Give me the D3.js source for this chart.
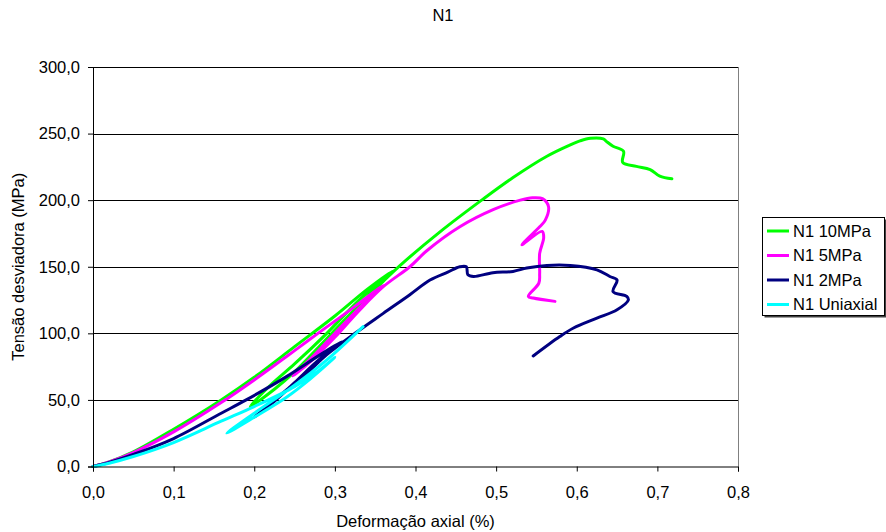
<!DOCTYPE html>
<html>
<head>
<meta charset="utf-8">
<script src="https://cdn.jsdelivr.net/npm/d3@7"></script>
<style>
  body { margin: 0; background: #fff; }
  text { font-family: "Liberation Sans", Arial, sans-serif; fill: #000; }
  .axis path, .axis line { stroke: #000; }
  .grid line { stroke: #000; shape-rendering: crispEdges; }
</style>
</head>
<body>
<svg width="886" height="532"></svg>
<script>
// values: strain (%) and deviator stress (MPa)
var seriesNames = ["N1 10MPa", "N1 5MPa", "N1 2MPa", "N1 Uniaxial"];
var seriesColors = ["#00ff00", "#ff00ff", "#000080", "#00ffff"];

var strain10 = [0, 0.02, 0.05, 0.1, 0.159, 0.2, 0.25, 0.3, 0.34, 0.372,
  0.33, 0.29, 0.25, 0.22, 0.195,
  0.225, 0.25, 0.282, 0.32, 0.36, 0.38, 0.43, 0.482, 0.521, 0.563, 0.59, 0.604, 0.617, 0.633,
  0.637, 0.645, 0.658, 0.657, 0.674, 0.691, 0.703, 0.718];
var stress10 = [0, 3.5, 11, 28, 50, 67, 90, 113, 133, 147,
  125, 100, 77, 61, 45,
  58, 71, 91, 115, 139, 150.5, 176, 200, 217, 233, 241, 244.5, 246.5, 246,
  244, 240.5, 236.7, 228.4, 225.4, 223, 218, 216];

var strain5 = [0, 0.02, 0.05, 0.1, 0.159, 0.2, 0.25, 0.279, 0.32, 0.36,
  0.34, 0.3, 0.27, 0.248,
  0.27, 0.3, 0.33, 0.36, 0.393, 0.414, 0.455, 0.497, 0.53, 0.545, 0.558, 0.565, 0.561, 0.554,
  0.532, 0.557, 0.559, 0.554, 0.554, 0.553, 0.54, 0.546, 0.573];
var stress5 = [0, 3.5, 10.5, 26, 48, 65, 87, 100, 118, 136,
  125, 100, 81, 68,
  79, 97, 117, 135, 150, 162, 180, 193, 200, 201.8, 201, 195, 185, 180,
  166.5, 176.5, 172, 160, 145, 137.7, 127.7, 126.5, 124];

var strain2 = [0, 0.02, 0.05, 0.1, 0.159, 0.19, 0.24, 0.282, 0.31,
  0.28, 0.25, 0.225, 0.2,
  0.22, 0.24, 0.265, 0.29, 0.325, 0.36, 0.393, 0.418, 0.44, 0.455, 0.463, 0.465, 0.472,
  0.496, 0.521, 0.538, 0.563, 0.592, 0.625, 0.641, 0.65, 0.645, 0.662, 0.664,
  0.65, 0.625, 0.596, 0.579, 0.546];
var stress2 = [0, 3, 9, 21, 40, 50, 67.5, 84, 94,
  80, 63, 49, 37,
  47, 57.5, 70, 84, 100, 115, 129, 140, 146, 150, 150, 144, 142.7,
  145.5, 146.5, 149, 151, 151, 147.7, 142.7, 140, 131.4, 127.7, 125,
  117.7, 111.4, 104, 97.6, 83];

var strainU = [0, 0.02, 0.05, 0.1, 0.159, 0.2, 0.25, 0.28, 0.3,
  0.27, 0.24, 0.2, 0.166,
  0.2, 0.25, 0.29, 0.335];
var stressU = [0, 2.5, 7.5, 18, 34, 45, 60, 72, 82,
  66, 52, 37, 25,
  40, 61, 80, 105];

var xTicks = [0, 0.1, 0.2, 0.3, 0.4, 0.5, 0.6, 0.7, 0.8];
var yTicks = [0, 50, 100, 150, 200, 250, 300];

var svg = d3.select("svg"),
    margin = {top: 67, right: 148, bottom: 65.5, left: 93},
    width = +svg.attr("width") - margin.left - margin.right,
    height = +svg.attr("height") - margin.top - margin.bottom;

var pt = d3.formatLocale({decimal: ",", thousands: ".", grouping: [3], currency: ["", " €"]});

var x = d3.scaleLinear().domain([0, 0.8]).range([0, width]),
    y = d3.scaleLinear().domain([0, 300]).range([height, 0]);

var g = svg.append("g")
    .attr("transform", "translate(" + margin.left + "," + margin.top + ")");

// horizontal gridlines
g.append("g")
    .attr("class", "grid")
  .selectAll("line")
  .data(yTicks.slice(1))
  .enter().append("line")
    .attr("x1", 0)
    .attr("x2", width)
    .attr("y1", function(d) { return Math.round(y(d)) + 0.5; })
    .attr("y2", function(d) { return Math.round(y(d)) + 0.5; });

// right edge of plot area
g.append("line")
    .attr("x1", width + 0.5).attr("x2", width + 0.5)
    .attr("y1", 0).attr("y2", height)
    .attr("stroke", "#808080");

var series = [
  {name: seriesNames[0], color: seriesColors[0], xs: strain10, ys: stress10},
  {name: seriesNames[1], color: seriesColors[1], xs: strain5, ys: stress5},
  {name: seriesNames[2], color: seriesColors[2], xs: strain2, ys: stress2},
  {name: seriesNames[3], color: seriesColors[3], xs: strainU, ys: stressU}
];

var line = d3.line()
    .x(function(d) { return x(d[0]); })
    .y(function(d) { return y(d[1]); })
    .curve(d3.curveCatmullRom.alpha(0.5));

g.selectAll(".series")
  .data(series)
  .enter().append("path")
    .attr("class", "series")
    .attr("fill", "none")
    .attr("stroke", function(d) { return d.color; })
    .attr("stroke-width", 3)
    .attr("stroke-linejoin", "round")
    .attr("stroke-linecap", "round")
    .attr("d", function(d) { return line(d3.zip(d.xs, d.ys)); });

g.append("g")
    .attr("class", "axis axis--x")
    .attr("transform", "translate(0," + height + ")")
    .call(d3.axisBottom(x).tickValues(xTicks).tickFormat(pt.format(".1f")).tickSizeOuter(0).tickSize(5).tickPadding(15))
    .call(function(a) { a.selectAll("text").attr("font-size", 16.5).attr("font-family", null); });

g.append("g")
    .attr("class", "axis axis--y")
    .call(d3.axisLeft(y).tickValues(yTicks).tickFormat(pt.format(".1f")).tickSizeOuter(0).tickSize(5).tickPadding(8))
    .call(function(a) { a.selectAll("text").attr("font-size", 16.5).attr("font-family", null); });

svg.selectAll(".axis path").attr("stroke", "#333");

// titles
svg.append("text")
    .attr("x", 443).attr("y", 21)
    .attr("text-anchor", "middle")
    .attr("font-size", 16.5)
    .text("N1");

svg.append("text")
    .attr("x", margin.left + width / 2).attr("y", 527)
    .attr("text-anchor", "middle")
    .attr("font-size", 16.5)
    .text("Deformação axial (%)");

svg.append("text")
    .attr("transform", "rotate(-90)")
    .attr("x", -(margin.top + height / 2)).attr("y", 24)
    .attr("text-anchor", "middle")
    .attr("font-size", 16.5)
    .text("Tensão desviadora (MPa)");

// legend
var legend = svg.append("g").attr("transform", "translate(762,217)");
legend.append("rect")
    .attr("x", 2.5).attr("y", 2.5).attr("width", 122).attr("height", 98)
    .attr("fill", "#404040");
legend.append("rect")
    .attr("x", 0.5).attr("y", 0.5).attr("width", 122).attr("height", 98)
    .attr("fill", "#fff").attr("stroke", "#000");

var item = legend.selectAll(".item")
  .data(series)
  .enter().append("g")
    .attr("class", "item")
    .attr("transform", function(d, i) { return "translate(0," + (14 + i * 24.5) + ")"; });

item.append("line")
    .attr("x1", 5).attr("x2", 27)
    .attr("stroke", function(d) { return d.color; })
    .attr("stroke-width", 3);

item.append("text")
    .attr("x", 31).attr("dy", "0.36em")
    .attr("font-size", 16.5)
    .text(function(d) { return d.name; });
</script>
</body>
</html>
